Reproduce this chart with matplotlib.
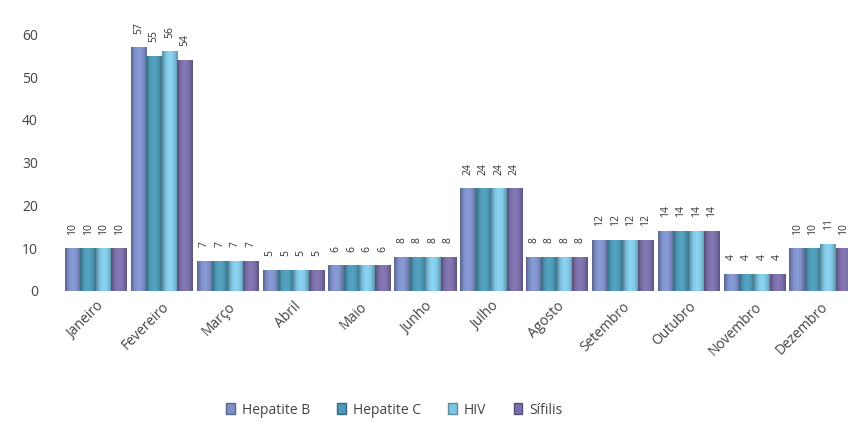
import numpy as np
import matplotlib.pyplot as plt
from matplotlib.patches import Patch
from matplotlib.colors import LinearSegmentedColormap

plt.rcParams['font.family'] = ['Open Sans', 'DejaVu Sans']

# Dados
meses = ['Janeiro', 'Fevereiro', 'Março', 'Abril', 'Maio', 'Junho', 'Julho',
         'Agosto', 'Setembro', 'Outubro', 'Novembro', 'Dezembro']
hep_b = [10, 57, 7, 5, 6, 8, 24, 8, 12, 14, 4, 10]
hep_c = [10, 55, 7, 5, 6, 8, 24, 8, 12, 14, 4, 10]
hiv = [10, 56, 7, 5, 6, 8, 24, 8, 12, 14, 4, 11]
sifilis = [10, 54, 7, 5, 6, 8, 24, 8, 12, 14, 4, 10]
series = ['Hepatite B', 'Hepatite C', 'HIV', 'Sífilis']

cores = ['#7f90c9', '#4f98b6', '#80c6e2', '#7c70aa']

fig = plt.figure(figsize=(8.48, 4.32), dpi=100)
ax = fig.add_axes([63 / 848, (432 - 291) / 432, 1 - 63 / 848, 278 / 432])

x = np.arange(len(meses))
w = 0.235
dados = [hep_b, hep_c, hiv, sifilis]

def escurecer(c, f):
    r, g, b = plt.matplotlib.colors.to_rgb(c)
    return (min(r * f, 1), min(g * f, 1), min(b * f, 1))

for k, (vals, cor) in enumerate(zip(dados, cores)):
    pos = x + (k - 1.5) * w
    barras = ax.bar(pos, vals, width=w, color=cor, edgecolor='none', zorder=2)
    cmap = LinearSegmentedColormap.from_list(
        'g', [escurecer(cor, 0.7), cor, escurecer(cor, 1.08), cor, escurecer(cor, 0.75)])
    grad = np.linspace(0, 1, 64).reshape(1, -1)
    for b in barras:
        x0, y0 = b.get_x(), b.get_y()
        im = ax.imshow(grad, cmap=cmap, aspect='auto', zorder=3,
                       extent=[x0, x0 + b.get_width(), y0, y0 + b.get_height()])
        im.set_clip_path(b)
    for p, v in zip(pos, vals):
        ax.text(p, v + 3.2, str(v), rotation=90, ha='center', va='bottom',
                fontsize=7.5, color='#333333', zorder=4)

ax.set_xlim(-0.5, 11.42)
ax.set_ylim(0, 65)
ax.set_yticks(range(0, 61, 10))
ax.set_xticks(x)
ax.set_xticklabels(meses, rotation=45, ha='right', rotation_mode='anchor',
                   fontsize=10, color='#444444')
ax.tick_params(axis='y', length=0, pad=18, labelsize=10, labelcolor='#444444')
ax.tick_params(axis='x', length=0, pad=6)
for s in ax.spines.values():
    s.set_visible(False)

handles = [Patch(facecolor=c, edgecolor=escurecer(c, 0.7), label=s)
           for c, s in zip(cores, series)]
fig.legend(handles=handles, loc='center', bbox_to_anchor=(0.465, 1 - 410 / 432),
           ncol=4, frameon=False, fontsize=10, handlelength=0.6, handleheight=0.9,
           handletextpad=0.5, columnspacing=2.0, labelcolor='#444444')

fig.savefig('out.png', dpi=100)
